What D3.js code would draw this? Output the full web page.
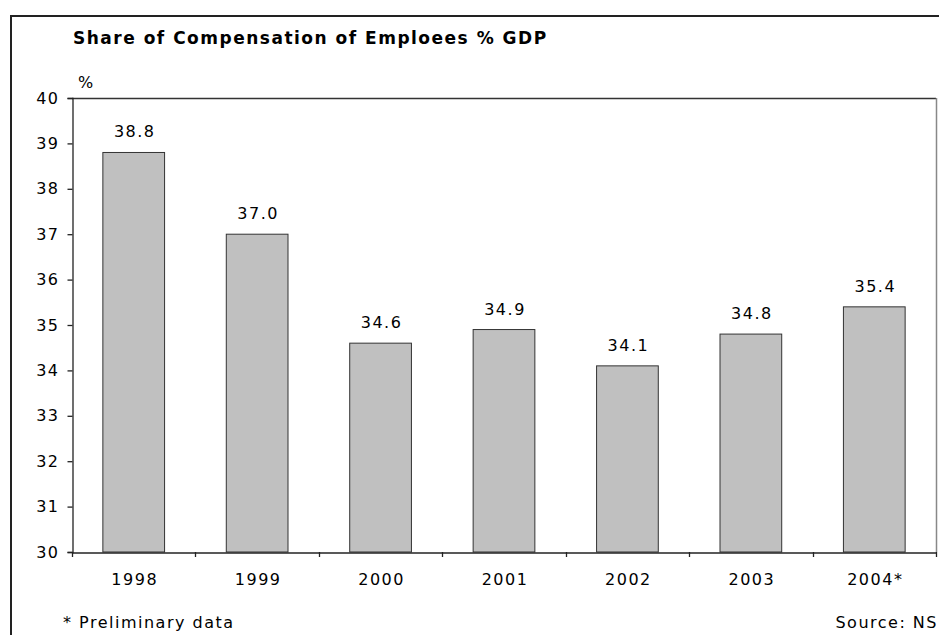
<!DOCTYPE html>
<html>
<head>
<meta charset="utf-8">
<script src="https://cdn.jsdelivr.net/npm/d3@7"></script>
<style>
  html, body { margin: 0; padding: 0; background: #fff; }
  svg { display: block; }
  text { font-family: "DejaVu Sans", Verdana, sans-serif; fill: #000; }
</style>
</head>
<body>
<svg id="chart" width="939" height="635"></svg>
<script>
// Share of compensation of employees in GDP, %
const years = ["1998", "1999", "2000", "2001", "2002", "2003", "2004*"];
const shares = [38.8, 37.0, 34.6, 34.9, 34.1, 34.8, 35.4];
const yTicks = [30, 31, 32, 33, 34, 35, 36, 37, 38, 39, 40];

const FONT = "DejaVu Sans, Verdana, sans-serif";
const LABEL_SIZE = 16;
const LABEL_SPACING = 1.5;
const svg = d3.select("#chart");

// outer frame (right and bottom edges fall outside the page)
svg.append("rect")
  .attr("x", 11).attr("y", 16)
  .attr("width", 950).attr("height", 650)
  .attr("fill", "none").attr("stroke", "#222").attr("stroke-width", 2);

const plot = { left: 72, right: 936, top: 98, bottom: 552 };

const x = d3.scaleBand()
  .domain(years)
  .range([plot.left, plot.right])
  .paddingInner(0.5)
  .paddingOuter(0.25);

const y = d3.scaleLinear()
  .domain([30, 40])
  .range([plot.bottom, plot.top]);

// title
svg.append("text")
  .attr("x", 73).attr("y", 44)
  .attr("font-size", 17).attr("font-weight", "bold")
  .attr("letter-spacing", 1.5)
  .text("Share of Compensation of Emploees % GDP");

// unit label
svg.append("text")
  .attr("x", 78).attr("y", 88)
  .attr("font-size", LABEL_SIZE)
  .text("%");

// plot frame: top and right edges
svg.append("line")
  .attr("x1", plot.left).attr("x2", plot.right)
  .attr("y1", plot.top + 0.5).attr("y2", plot.top + 0.5)
  .attr("stroke", "#333").attr("stroke-width", 1.3);
svg.append("line")
  .attr("x1", plot.right + 0.5).attr("x2", plot.right + 0.5)
  .attr("y1", plot.top).attr("y2", plot.bottom)
  .attr("stroke", "#888").attr("stroke-width", 1.5);

// bars
svg.append("g").selectAll("rect")
  .data(years)
  .join("rect")
  .attr("x", d => x(d))
  .attr("y", (d, i) => y(shares[i]))
  .attr("width", x.bandwidth())
  .attr("height", (d, i) => y(30) - y(shares[i]))
  .attr("fill", "#c0c0c0")
  .attr("stroke", "#333")
  .attr("stroke-width", 1);

// value labels
svg.append("g").selectAll("text")
  .data(years)
  .join("text")
  .attr("x", d => x(d) + x.bandwidth() / 2 + 1)
  .attr("y", (d, i) => y(shares[i]) - 15)
  .attr("text-anchor", "middle")
  .attr("font-size", LABEL_SIZE)
  .attr("letter-spacing", LABEL_SPACING)
  .text((d, i) => shares[i].toFixed(1));

// y axis
const yAxis = svg.append("g")
  .attr("transform", `translate(${plot.left + 0.5},0)`)
  .call(d3.axisLeft(y).tickValues(yTicks).tickSize(5).tickPadding(8).tickFormat(d3.format("d")));
yAxis.selectAll("path, line").attr("stroke", "#222").attr("stroke-width", 1.3);
yAxis.selectAll("text").attr("font-size", LABEL_SIZE).attr("font-family", FONT)
  .attr("letter-spacing", LABEL_SPACING).attr("fill", "#000");

// x axis: labels under bars, ticks on category boundaries
const xAxis = svg.append("g")
  .attr("transform", `translate(0,${plot.bottom + 0.5})`)
  .call(d3.axisBottom(x).tickSize(0).tickSizeOuter(0).tickPadding(21));
xAxis.select("path").attr("stroke", "#222").attr("stroke-width", 1.3);
xAxis.selectAll("text").attr("font-size", LABEL_SIZE).attr("font-family", FONT)
  .attr("letter-spacing", LABEL_SPACING).attr("fill", "#000").attr("dx", 1);

const step = x.step();
const bounds = years.map(d => x(d) - step * x.paddingInner() / 2)
  .concat([x(years[years.length - 1]) + x.bandwidth() + step * x.paddingInner() / 2]);
svg.append("g").selectAll("line")
  .data(bounds)
  .join("line")
  .attr("x1", d => Math.round(d) + 0.5).attr("x2", d => Math.round(d) + 0.5)
  .attr("y1", plot.bottom).attr("y2", plot.bottom + 5)
  .attr("stroke", "#222").attr("stroke-width", 1.3);

// footnotes
svg.append("text")
  .attr("x", 63).attr("y", 628)
  .attr("font-size", LABEL_SIZE).attr("letter-spacing", LABEL_SPACING)
  .text("* Preliminary data");
svg.append("text")
  .attr("x", 938).attr("y", 628)
  .attr("text-anchor", "end")
  .attr("font-size", LABEL_SIZE).attr("letter-spacing", LABEL_SPACING)
  .text("Source: NS");
</script>
</body>
</html>
